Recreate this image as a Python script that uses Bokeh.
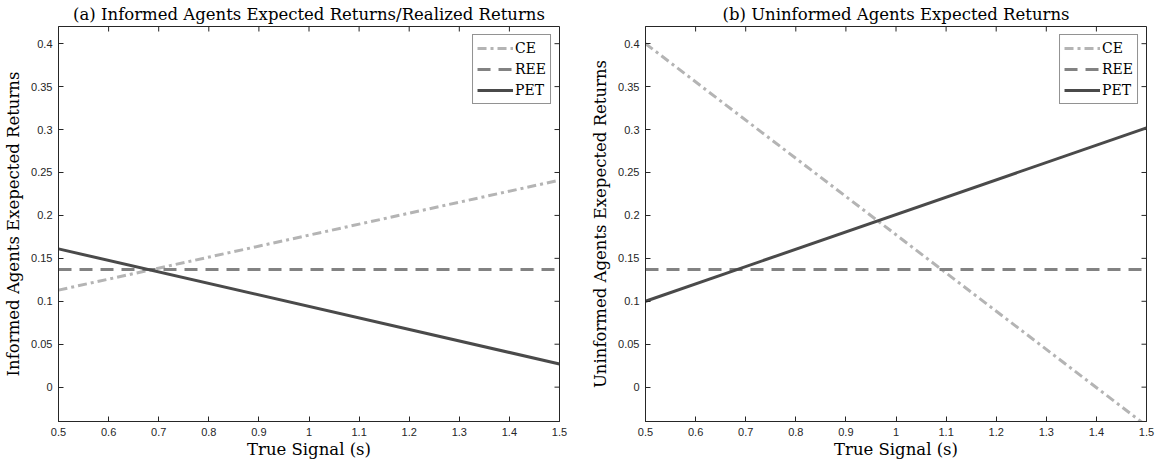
from bokeh.plotting import figure
from bokeh.layouts import row
from bokeh.models import FixedTicker, Range1d, Legend, LegendItem
from bokeh.embed import file_html
from bokeh.resources import INLINE

# ---- data ----
signal = [0.5, 1.5]
a_ce = [0.113, 0.241]
a_ree = [0.137, 0.137]
a_pet = [0.161, 0.027]
b_ce = [0.400, -0.045]
b_ree = [0.137, 0.137]
b_pet = [0.100, 0.302]

x_ticks = [0.5, 0.6, 0.7, 0.8, 0.9, 1.0, 1.1, 1.2, 1.3, 1.4, 1.5]
x_tick_labels = ["0.5", "0.6", "0.7", "0.8", "0.9", "1", "1.1", "1.2", "1.3", "1.4", "1.5"]
y_ticks = [0.0, 0.05, 0.1, 0.15, 0.2, 0.25, 0.3, 0.35, 0.4]
y_tick_labels = ["0", "0.05", "0.1", "0.15", "0.2", "0.25", "0.3", "0.35", "0.4"]

titles = ["(a) Informed Agents Expected Returns/Realized Returns",
          "(b) Uninformed Agents Expected Returns"]
y_labels = ["Informed Agents Exepected Returns",
            "Uninformed Agents Exepected Returns"]
x_label = "True Signal (s)"
series_names = ["CE", "REE", "PET"]

SERIF = "DejaVu Serif"
SANS = "Liberation Sans"
AXC = "#262626"
colors = ["#b4b4b4", "#828282", "#4a4a4a"]
dashes = ["9 4 3 4", "13 8", "solid"]

X_LO, X_HI = 0.5, 1.5
Y_LO, Y_HI = -0.04, 0.42
FRAME_W, FRAME_H = 501, 395
TICK = 5


def style_axis(ax, ticks, labels):
    ax.ticker = FixedTicker(ticks=ticks)
    ax.major_label_overrides = {t: l for t, l in zip(ticks, labels)}
    ax.major_tick_in = TICK
    ax.major_tick_out = 0
    ax.minor_tick_line_color = None
    ax.axis_line_color = AXC
    ax.major_tick_line_color = AXC
    ax.axis_line_width = 1
    ax.major_label_text_font = SANS
    ax.major_label_text_font_size = "11px"
    ax.major_label_text_color = AXC
    ax.major_label_standoff = 6


def make_panel(title, ylab, ys, width, left, right):
    p = figure(width=width, height=466, output_backend="svg", toolbar_location=None,
               x_range=Range1d(X_LO, X_HI), y_range=Range1d(Y_LO, Y_HI),
               min_border_left=left, min_border_right=right,
               min_border_top=26, min_border_bottom=45)
    p.title.text = title
    p.title.text_font = SERIF
    p.title.text_font_size = "16.5px"
    p.title.text_font_style = "normal"
    p.title.text_color = "black"
    p.title.align = "center"
    p.title.standoff = 5
    p.grid.visible = False
    p.outline_line_color = AXC
    p.outline_line_width = 1
    style_axis(p.xaxis[0], x_ticks, x_tick_labels)
    style_axis(p.yaxis[0], y_ticks, y_tick_labels)
    p.xaxis[0].axis_label = x_label
    p.yaxis[0].axis_label = ylab
    for ax in (p.xaxis[0], p.yaxis[0]):
        ax.axis_label_text_font = SERIF
        ax.axis_label_text_font_size = "16.5px"
        ax.axis_label_text_font_style = "normal"
        ax.axis_label_text_color = "black"
    p.xaxis[0].axis_label_standoff = 1
    p.yaxis[0].axis_label_standoff = 5

    # inward ticks on top and right edges (box on)
    dy = TICK * (Y_HI - Y_LO) / FRAME_H
    dx = TICK * (X_HI - X_LO) / FRAME_W
    p.segment(x0=x_ticks, y0=[Y_HI] * len(x_ticks), x1=x_ticks, y1=[Y_HI - dy] * len(x_ticks),
              line_color=AXC, line_width=1)
    p.segment(x0=[X_HI] * len(y_ticks), y0=y_ticks, x1=[X_HI - dx] * len(y_ticks), y1=y_ticks,
              line_color=AXC, line_width=1)

    items = []
    for name, yv, c, d in zip(series_names, ys, colors, dashes):
        r = p.line(signal, yv, line_color=c, line_width=3, line_dash=d)
        items.append(LegendItem(label=name, renderers=[r]))
    leg = Legend(items=items, location="top_right")
    leg.label_text_font = SERIF
    leg.label_text_font_size = "14px"
    leg.label_text_color = "black"
    leg.glyph_width = 36
    leg.glyph_height = 18
    leg.label_height = 18
    leg.label_standoff = 2
    leg.spacing = 3
    leg.padding = 4
    leg.margin = 8
    leg.border_line_color = AXC
    leg.border_line_width = 1
    p.add_layout(leg)
    return p


p1 = make_panel(titles[0], y_labels[0], [a_ce, a_ree, a_pet], 580, 58, 21)
p2 = make_panel(titles[1], y_labels[1], [b_ce, b_ree, b_pet], 578, 65, 12)
layout = row(p1, p2)

open("out.html", "w").write(file_html(layout, INLINE))
